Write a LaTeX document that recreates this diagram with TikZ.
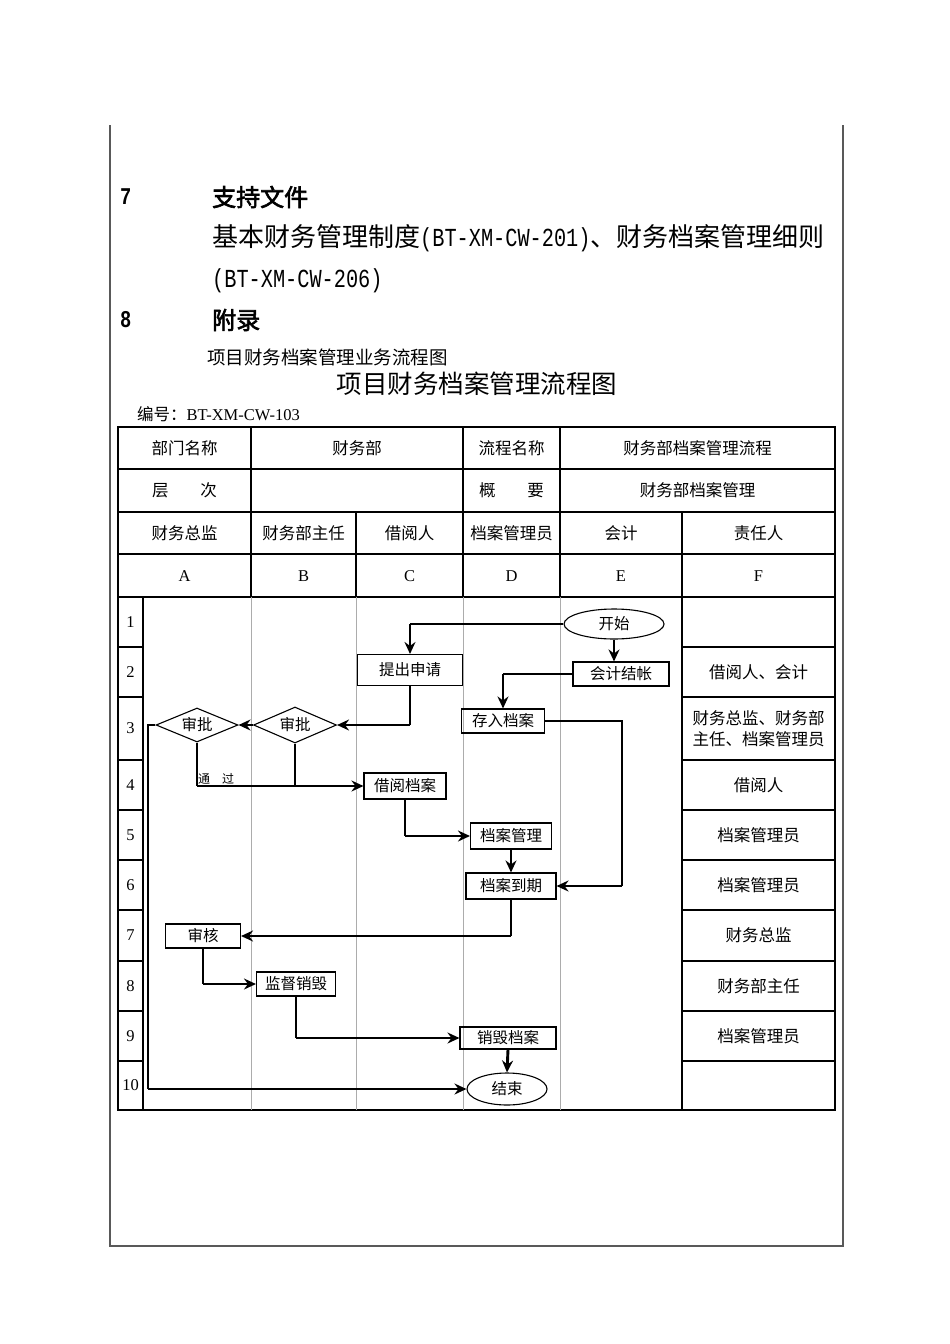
\documentclass[tikz,border=0pt]{standalone}
\usepackage{fontspec}
\setmainfont{Liberation Serif}
\newfontfamily\cjk{Noto Sans CJK SC}
\newfontfamily\cjkbold[FakeBold=2.5]{Noto Sans CJK SC}
\newfontfamily\condmono[FakeStretch=0.78]{Liberation Mono}
\usepackage{tikz}
\usetikzlibrary{positioning,calc,shapes.geometric,arrows.meta}

\tikzset{
	pageline/.style={draw=black!65, line width=1.5pt},
	tbl/.style={line width=1.2pt},
	lane/.style={draw=gray!65, line width=1pt},
	cell/.style={inner sep=0pt, font=\cjk\fontsize{16.5}{20}\selectfont},
	letter/.style={inner sep=0pt, font=\fontsize{16.5}{20}\selectfont},
	box/.style={rectangle, draw, line width=1.1pt, inner sep=0pt, minimum height=24pt, font=\cjk\fontsize{15.5}{18}\selectfont},
	dec/.style={diamond, draw, line width=1.1pt, inner sep=0pt, aspect=2.3, font=\cjk\fontsize{15.5}{18}\selectfont},
	term/.style={ellipse, draw, line width=1.1pt, inner sep=0pt, minimum width=100pt, minimum height=30pt, font=\cjk\fontsize{15.5}{18}\selectfont},
	ln/.style={line width=1.1pt},
	arr/.style={line width=2.9pt, -{Stealth[length=12pt, width=11pt, inset=4pt]}},
}

\begin{document}
\begin{tikzpicture}[x=1pt,y=-1pt]
	\useasboundingbox (0,0) rectangle (950,1344);
	\fill[white] (0,0) rectangle (950,1344);
	\draw[pageline] (110,125) -- (110,1246) -- (843,1246) -- (843,125);

	\node[anchor=west, inner sep=0pt, font=\condmono\bfseries\fontsize{24}{28}\selectfont] (num7) at (120,197) {7};
	\node[anchor=west, inner sep=0pt, font=\cjkbold\fontsize{24}{28}\selectfont] (sec7) at (212,197) {支持文件};
	\node[anchor=west, inner sep=0pt, font=\fontsize{26}{30}\selectfont] (ref1) at (212,238) {{\cjk 基本财务管理制度}{\condmono (BT-XM-CW-201)}{\cjk 、财务档案管理细则}};
	\node[anchor=west, inner sep=0pt, font=\condmono\fontsize{26}{30}\selectfont] (ref2) at (212,281) {(BT-XM-CW-206)};
	\node[anchor=west, inner sep=0pt, font=\condmono\bfseries\fontsize{24}{28}\selectfont] (num8) at (120,320) {8};
	\node[anchor=west, inner sep=0pt, font=\cjkbold\fontsize{24}{28}\selectfont] (sec8) at (212,320) {附录};
	\node[anchor=west, inner sep=0pt, font=\cjk\fontsize{18.5}{22}\selectfont] (sub) at (207,357) {项目财务档案管理业务流程图};
	\node[inner sep=0pt, font=\cjk\fontsize{25.5}{30}\selectfont] (title) at (477,384) {项目财务档案管理流程图};
	\node[anchor=west, inner sep=0pt, font=\fontsize{16.5}{20}\selectfont] (code) at (137,414) {{\cjk 编号：}BT-XM-CW-103};

	\draw[tbl] (118,427) rectangle (835,1110);
	\foreach \y in {469,512,554,597} \draw[tbl] (118,\y) -- (835,\y);
	\foreach \x in {251,463,560} \draw[tbl] (\x,427) -- (\x,512);
	\foreach \x in {251,356,463,560,682} \draw[tbl] (\x,512) -- (\x,597);
	\foreach \x in {251,356,463,560} \draw[lane] (\x,597) -- (\x,1110);
	\draw[tbl] (143,597) -- (143,1110);
	\draw[tbl] (682,597) -- (682,1110);
	\foreach \y in {647,697,760,810,860,910,961,1011,1061} {
		\draw[tbl] (118,\y) -- (143,\y);
		\draw[tbl] (682,\y) -- (835,\y);
	}

	\node[cell] (dept) at (184.5,448) {部门名称};
	\node[cell] (deptv) at (357,448) {财务部};
	\node[cell] (proc) at (511.5,448) {流程名称};
	\node[cell] (procv) at (697.5,448) {财务部档案管理流程};
	\node[cell] (level) at (184.5,490) {层\hspace{32pt}次};
	\node[cell] (summ) at (511.5,490) {概\hspace{32pt}要};
	\node[cell] (summv) at (697.5,490) {财务部档案管理};
	\foreach \n/\x/\t in {A/184.5/财务总监,B/303.5/财务部主任,C/409.5/借阅人,D/511.5/档案管理员,E/621/会计,F/758.5/责任人} {
		\node[cell] (role\n) at (\x,533) {\t};
		\node[letter] (col\n) at (\x,576) {\n};
	}
	\foreach \n/\y in {1/622,2/672,3/728.5,4/785,5/835,6/885,7/935.5,8/986,9/1036,10/1085.5}
		\node[letter] (row\n) at (130.5,\y) {\n};

	\node[cell] (resp2) at (758.5,672) {借阅人、会计};
	\node[cell, align=center, font=\cjk\fontsize{16.5}{21}\selectfont] (resp3) at (758.5,729) {财务总监、财务部\\主任、档案管理员};
	\node[cell] (resp4) at (758.5,785) {借阅人};
	\node[cell] (resp5) at (758.5,835) {档案管理员};
	\node[cell] (resp6) at (758.5,885) {档案管理员};
	\node[cell] (resp7) at (758.5,935.5) {财务总监};
	\node[cell] (resp8) at (758.5,986) {财务部主任};
	\node[cell] (resp9) at (758.5,1036) {档案管理员};

	\node[term] (start) at (614,624) {开始};
	\node[box, minimum width=96pt] (acct) at (621,674) {会计结帐};
	\node[box, minimum width=105pt, minimum height=31pt] (apply) at (410,670) {提出申请};
	\node[box, minimum width=83pt] (store) at (503,721) {存入档案};
	\node[dec, minimum width=83pt, minimum height=36pt] (apprB) at (295,725) {审批};
	\node[dec, minimum width=82pt, minimum height=34pt] (apprA) at (197,725) {审批};
	\node[box, minimum width=82pt, minimum height=26pt] (borrow) at (405,786) {借阅档案};
	\node[box, minimum width=81pt, minimum height=26pt] (manage) at (511,836) {档案管理};
	\node[box, minimum width=90pt, minimum height=26pt] (expire) at (511,886) {档案到期};
	\node[box, minimum width=75pt] (review) at (203,936) {审核};
	\node[box, minimum width=79pt] (supervise) at (296,984) {监督销毁};
	\node[box, minimum width=96pt, minimum height=22pt] (destroy) at (508,1038) {销毁档案};
	\node[term, minimum width=80pt, minimum height=32pt] (finish) at (507,1089) {结束};

	\coordinate (c1) at (apply.north |- start.west);
	\draw[ln] (start.west) -- (c1);
	\draw[arr] (c1) -- (apply.north);
	\draw[arr] (start.south) -- (start.south |- acct.north);
	\coordinate (c3) at (store.north |- acct.west);
	\draw[ln] (acct.west) -- (c3);
	\draw[arr] (c3) -- (store.north);
	\coordinate (c4a) at (622,721);
	\coordinate (c4b) at (c4a |- expire.east);
	\draw[ln] (store.east) -- (c4a) -- (c4b);
	\draw[arr] (c4b) -- (expire.east);
	\coordinate (c5) at (apply.south |- apprB.east);
	\draw[ln] (apply.south) -- (c5);
	\draw[arr] (c5) -- (apprB.east);
	\draw[arr] (apprB.west) -- (apprA.east);
	\coordinate (c7) at (apprA.south |- borrow.west);
	\draw[ln] (apprA.south) -- (c7);
	\draw[ln] (apprB.south) -- (apprB.south |- borrow.west);
	\draw[arr] (c7) -- (borrow.west);
	\node[anchor=south west, inner sep=1pt, font=\cjk\fontsize{12}{14}\selectfont] (pass) at (c7) {通\hspace{12pt}过};
	\coordinate (c8a) at (148,725);
	\coordinate (c8b) at (c8a |- finish.west);
	\draw[ln] (apprA.west) -- (c8a) -- (c8b);
	\draw[arr] (c8b) -- (finish.west);
	\coordinate (c9) at (borrow.south |- manage.west);
	\draw[ln] (borrow.south) -- (c9);
	\draw[arr] (c9) -- (manage.west);
	\draw[arr] (manage.south) -- (expire.north);
	\coordinate (c11) at (expire.south |- review.east);
	\draw[ln] (expire.south) -- (c11);
	\draw[arr] (c11) -- (review.east);
	\coordinate (c12) at (review.south |- supervise.west);
	\draw[ln] (review.south) -- (c12);
	\draw[arr] (c12) -- (supervise.west);
	\coordinate (c13) at (supervise.south |- destroy.west);
	\draw[ln] (supervise.south) -- (c13);
	\draw[arr] (c13) -- (destroy.west);
	\draw[arr] (destroy.south) -- (finish.north);
\end{tikzpicture}
\end{document}
